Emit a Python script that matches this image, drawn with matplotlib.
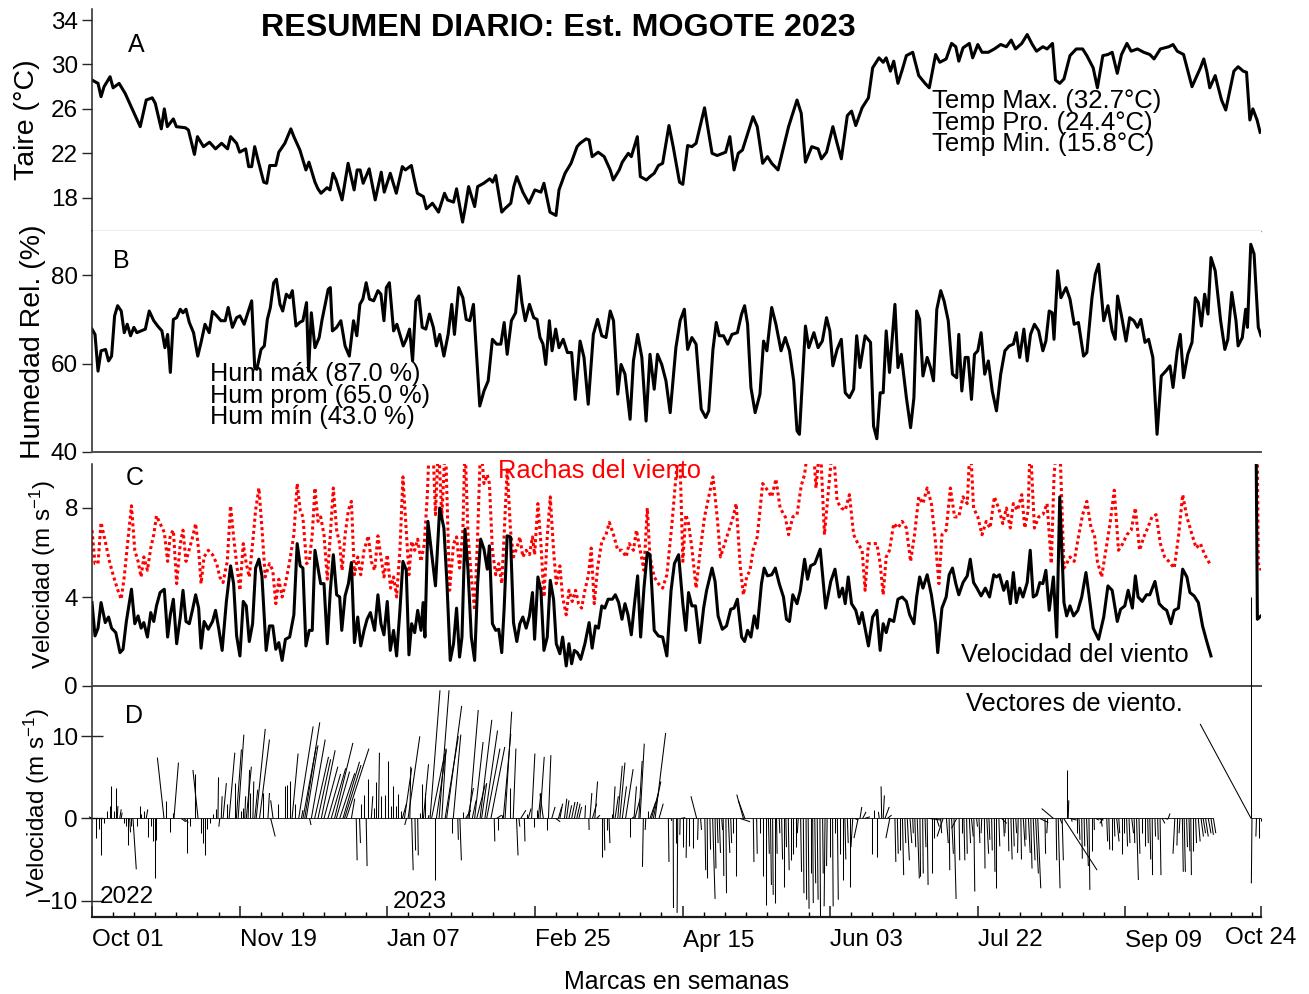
import datetime as dt
import numpy as np
import matplotlib
matplotlib.use("Agg")
import matplotlib.pyplot as plt
from matplotlib.collections import LineCollection
from matplotlib.ticker import MultipleLocator

plt.rcParams["font.family"] = ["Liberation Sans", "DejaVu Sans"]
plt.rcParams["mathtext.fontset"] = "custom"
plt.rcParams["mathtext.rm"] = "Liberation Sans"
plt.rcParams["mathtext.it"] = "Liberation Sans:italic"
plt.rcParams["mathtext.bf"] = "Liberation Sans:bold"

# days counted from 2022-10-01
START = dt.date(2022, 10, 1)
END_DAY = 388  # Oct 24 2023

# daily air temperature (day, degC)
temp_obs = [
    (0, 28.6), (2, 28.3), (3, 27.1), (4, 28.0), (6, 28.9), (7, 27.9), (9, 28.3), (11, 27.4), (12, 26.8),
    (16, 24.4), (18, 26.8), (20, 27.0), (21, 26.5), (23, 24.2), (24, 26.0), (25, 24.4), (27, 25.1),
    (28, 24.4), (31, 24.3), (32, 24.1), (34, 21.9), (35, 23.5), (37, 22.6), (39, 23.0), (41, 22.4),
    (43, 22.9), (45, 22.4), (46, 23.5), (48, 22.9), (49, 22.1), (51, 22.4), (52, 20.8), (53, 20.8),
    (54, 22.6), (55, 21.5), (57, 19.4), (58, 19.3), (59, 20.9), (61, 20.9), (62, 22.1), (64, 22.9),
    (66, 24.2), (67, 23.5), (69, 22.3), (70, 21.4), (71, 20.5), (72, 21.2), (74, 19.4), (75, 18.8),
    (76, 18.4), (78, 18.9), (79, 18.7), (80, 20.2), (81, 19.6), (83, 17.8), (85, 21.1), (87, 18.7),
    (88, 20.5), (89, 20.5), (90, 19.3), (92, 20.6), (94, 17.8), (96, 20.3), (97, 18.5), (99, 20.2),
    (101, 18.4), (103, 20.8), (104, 20.5), (106, 20.9), (107, 19.6), (108, 18.4), (110, 18.1),
    (111, 17.0), (113, 17.5), (115, 16.7), (117, 18.4), (118, 17.8), (120, 17.6), (121, 18.8),
    (123, 15.8), (124, 17.3), (125, 19.0), (127, 17.2), (128, 19.0), (130, 19.3), (132, 19.7),
    (133, 19.4), (134, 20.0), (136, 16.7), (137, 17.0), (139, 17.5), (140, 19.0), (141, 19.9),
    (143, 18.5), (145, 17.5), (147, 18.7), (149, 18.5), (150, 19.3), (152, 16.7), (154, 16.4),
    (155, 18.7), (157, 20.2), (159, 21.1), (161, 22.6), (162, 22.9), (164, 23.3), (165, 23.2),
    (166, 21.7), (168, 22.1), (170, 21.7), (172, 20.5), (173, 19.6), (175, 20.5), (176, 21.2),
    (178, 22.0), (179, 21.7), (181, 23.5), (182, 19.9), (184, 19.6),
    (185.2, 19.9), (186.6, 20.2), (188.0, 20.9), (189.4, 21.1), (191.5, 24.5), (192.9, 22.6),
    (195.0, 19.4), (196.1, 19.2), (197.7, 22.7), (199.1, 22.6), (200.5, 22.9), (203.3, 26.1),
    (205.8, 22.0), (207.5, 21.8), (210.3, 22.1), (211.7, 23.5), (213.1, 20.5), (214.5, 22.0),
    (215.9, 22.3), (219.4, 25.3), (220.8, 24.4), (222.6, 21.1), (224.2, 21.7), (225.6, 21.1),
    (227.7, 20.5), (231.2, 24.4), (234.0, 26.8), (235.4, 25.6), (236.8, 21.2), (238.9, 22.6),
    (241.0, 22.4), (242.1, 21.5), (243.8, 22.1), (245.9, 24.4), (247.3, 22.9), (248.7, 21.5),
    (250.7, 25.4), (252.1, 25.8), (253.5, 24.5), (255.6, 26.1), (257.7, 27.0), (259.1, 29.7),
    (261.2, 30.6), (262.6, 30.2), (263.6, 30.6), (265.0, 29.4), (266.1, 30.3), (267.5, 28.3),
    (268.9, 29.5), (270.3, 30.8), (272.4, 31.1), (274.4, 29.0), (276.5, 28.3), (277.9, 27.9),
    (280.0, 30.9), (281.4, 30.2), (283.5, 30.5), (285.3, 31.9), (286.7, 31.6), (287.7, 30.3),
    (289.1, 31.5), (291.2, 31.9), (292.3, 30.6), (294.0, 31.8), (295.4, 31.1), (297.5, 31.1),
    (299.5, 31.4), (301.6, 31.8), (303.5, 31.6), (305.1, 32.2), (306.5, 31.4), (308.6, 31.9),
    (310.4, 32.7), (312.1, 31.8), (313.5, 31.2), (315.6, 31.6), (317.0, 31.4), (318.8, 31.9),
    (319.8, 28.6), (321.2, 28.3), (322.6, 28.7), (324.6, 30.8), (326.7, 31.4), (328.8, 31.4),
    (330.2, 30.8), (332.3, 29.7), (333.7, 27.9), (335.5, 30.8), (337.2, 30.9), (338.6, 31.1),
    (340.3, 29.2), (341.7, 30.9), (343.5, 31.9), (344.9, 31.2), (347.0, 31.4), (349.1, 31.1),
    (351.1, 30.9), (352.5, 30.5), (354.6, 31.4), (357.4, 31.6), (358.8, 31.8), (360.2, 31.2),
    (362.3, 30.9), (365.1, 28.0), (367.9, 29.7), (369.0, 30.5), (370.0, 29.4), (371.0, 27.9),
    (372.8, 29.0), (374.9, 26.8), (376.3, 25.9), (379.0, 29.4), (380.4, 29.8), (382.1, 29.4),
    (383.2, 29.3), (384.3, 25.0), (385.3, 26.0), (386.7, 25.0), (387.7, 23.9),
]

# relative humidity (day, %)
hum_obs = [
    (0, 67.8), (1, 66.6), (2, 58.3), (3, 62.9), (4.5, 63.2), (5.5, 60.6), (6.5, 61.7), (7.5, 70.8),
    (8.5, 73.1), (9.7, 71.9), (10.7, 67.0), (11.7, 68.9), (12.8, 66.3), (13.9, 68.2), (14.9, 67.0),
    (17.7, 67.8), (19, 71.9), (20.5, 69.7), (21.8, 68.5), (23.2, 67.4), (24.2, 63.6), (25.1, 66.6),
    (26, 58.0), (27, 70.0), (28.1, 70.4), (29.3, 72.3), (30.2, 71.5), (31.2, 72.3), (32.3, 69.3),
    (33.7, 67.0), (35.1, 61.7), (36.2, 64.8), (37.5, 68.9), (38.9, 67.0), (40, 71.8), (41.4, 70.8),
    (42.8, 69.7), (44.2, 69.7), (45.2, 72.7), (46.6, 68.2), (48, 70.4), (49.1, 70.8), (50.5, 68.9),
    (51.9, 71.9), (53, 74.2), (54, 59.1), (54.7, 58.7), (56.1, 63.2), (57.2, 64.0), (58.2, 70.0),
    (59.2, 72.7), (60.3, 78.3), (61.2, 79.1), (62.4, 73.4), (63.3, 71.9), (64.5, 75.7), (65.6, 74.9),
    (66.5, 76.5), (67.7, 68.5), (68.9, 69.3), (70, 69.7), (71.2, 73.8), (71.9, 58.3), (72.8, 71.5),
    (74, 63.6), (75.4, 65.9), (76.3, 69.7), (77.3, 73.1), (78.4, 76.8), (79.1, 77.2), (79.8, 67.4),
    (81.2, 68.2), (82.6, 69.7), (84, 64.0), (85.4, 61.7), (86.8, 69.7), (87.9, 66.3), (88.9, 73.4),
    (89.9, 74.6), (91, 78.3), (92.1, 74.6), (93.5, 74.2), (94.9, 76.5), (95.9, 75.7), (96.9, 69.7),
    (97.7, 77.2), (98.7, 78.3), (100.1, 67.4), (101.2, 68.9), (102.2, 66.6), (103.3, 64.0),
    (104.3, 65.5), (105.4, 67.8), (106.4, 60.6), (107.5, 74.2), (108.5, 75.3), (109.6, 68.2),
    (110.8, 67.8), (112, 71.2), (113.3, 68.2), (114.3, 64.0), (115.4, 66.6), (116.8, 61.7),
    (118.2, 66.6), (119.4, 73.4), (120.3, 66.6), (121.7, 77.2), (123.1, 74.9), (124.2, 70.0),
    (125.4, 69.7), (126.6, 73.4), (128.7, 50.4), (130.1, 53.8), (131.5, 56.1), (132.9, 65.5),
    (134.3, 64.4), (135.7, 64.4), (136.8, 69.3), (137.8, 62.1), (139.2, 69.7), (140.6, 71.5),
    (141.7, 79.8), (142.7, 73.8), (143.8, 69.7), (145.2, 73.4), (146.6, 70.4), (147.7, 70.0),
    (148.7, 65.9), (149.7, 64.4), (150.6, 59.8), (151.8, 69.7), (152.7, 62.9), (153.9, 67.8),
    (155, 63.6), (156.4, 65.5), (157.8, 62.5), (159.2, 62.5), (160.4, 51.9), (162, 65.1),
    (163.3, 61.4), (164.7, 50.8), (166.4, 66.6), (167.8, 70.0), (169.2, 66.3), (170.6, 65.9),
    (172, 71.9), (173.1, 69.7), (174.5, 53.1), (175.6, 59.8), (176.9, 57.6), (178.6, 47.4),
    (179.7, 60.6), (181.1, 66.6), (182.5, 61.4), (183.9, 47.0),
    (185.2, 62.1), (186.6, 54.2), (187.7, 62.1), (189.1, 59.8), (190.5, 56.1), (191.9, 48.9),
    (193.8, 63.6), (195.2, 69.7), (196.6, 72.3), (197.7, 63.2), (199.1, 65.9), (200.5, 64.4),
    (202.2, 49.7), (203.7, 47.8), (204.7, 49.3), (206.1, 63.2), (207.2, 69.3), (208.2, 66.3),
    (209.6, 66.3), (211.0, 64.4), (212.4, 66.6), (214.2, 67.0), (215.6, 71.2), (216.6, 73.1),
    (217.6, 68.9), (218.7, 54.6), (220.1, 48.9), (221.7, 53.1), (222.9, 65.1), (224.0, 62.9),
    (225.6, 72.7), (227.0, 68.9), (228.7, 62.9), (230.1, 65.9), (231.5, 62.9), (232.9, 56.1),
    (234.0, 44.8), (234.8, 44.0), (236.8, 68.5), (237.9, 63.6), (239.6, 67.0), (241.0, 63.6),
    (242.4, 65.1), (243.8, 70.4), (244.9, 67.4), (245.9, 59.5), (247.3, 63.2), (248.7, 65.5),
    (250.0, 53.4), (251.4, 52.3), (252.8, 54.2), (253.8, 66.3), (254.9, 59.1), (256.6, 66.3),
    (258.4, 64.8), (259.4, 45.9), (260.5, 43.0), (261.6, 53.4), (262.6, 53.4), (263.6, 67.4),
    (264.7, 58.0), (266.5, 73.4), (267.5, 59.1), (268.6, 62.1), (270.3, 52.3), (271.7, 45.5),
    (272.8, 52.3), (273.7, 71.9), (274.7, 70.0), (275.8, 57.2), (277.2, 61.4), (278.3, 59.1),
    (279.3, 56.1), (280.4, 72.3), (281.7, 76.5), (282.8, 74.2), (284.2, 69.7), (285.6, 57.6),
    (287.0, 56.8), (287.7, 66.6), (288.7, 53.8), (289.8, 61.4), (290.8, 61.4), (291.9, 51.9),
    (292.9, 62.1), (294.0, 62.9), (295.1, 67.0), (296.3, 57.6), (297.5, 60.6), (298.8, 53.8),
    (300.2, 49.3), (301.6, 57.6), (303.0, 62.9), (304.4, 64.0), (305.8, 64.4), (306.8, 67.0),
    (307.9, 61.4), (309.3, 67.8), (310.4, 60.6), (311.5, 66.6), (312.8, 68.9), (314.2, 67.4),
    (315.6, 62.9), (316.6, 65.1), (317.7, 71.9), (318.7, 71.5), (319.3, 65.5), (320.5, 81.0),
    (321.6, 74.9), (323.3, 77.2), (324.6, 74.6), (326.0, 68.9), (327.4, 69.3), (329.1, 61.7),
    (330.2, 62.5), (331.9, 74.9), (333.0, 80.2), (334.1, 82.5), (335.8, 69.7), (337.2, 73.1),
    (338.6, 67.4), (339.6, 65.5), (340.4, 75.3), (341.7, 70.8), (343.2, 65.1), (344.4, 70.4),
    (345.8, 69.7), (347.0, 68.2), (348.1, 70.0), (349.5, 64.8), (350.7, 65.5), (352.1, 61.4),
    (353.5, 44.0), (354.9, 57.2), (356.4, 58.3), (357.8, 59.5), (358.8, 54.6), (360.2, 62.9),
    (361.2, 66.6), (362.3, 56.8), (363.7, 62.1), (365.1, 64.8), (366.2, 74.9), (367.2, 73.8),
    (368.2, 68.5), (369.3, 75.7), (370.4, 71.2), (371.4, 84.0), (372.8, 81.0), (374.6, 69.7),
    (376.0, 63.2), (377.0, 65.5), (378.3, 76.1), (379.7, 69.7), (380.4, 64.0), (381.8, 65.9),
    (382.9, 72.3), (383.5, 68.2), (384.6, 87.0), (385.7, 84.8), (387.1, 68.2), (388.0, 66.3),
]

# mean wind speed (day, m/s); nan marks the data gap
wind_obs = [
    (0, 3.75), (1, 2.25), (2, 2.6), (3, 3.75), (4.4, 2.85), (5.5, 3.1), (6.5, 2.6), (7.9, 2.4),
    (9.3, 1.5), (10.3, 1.65), (11.4, 2.9), (13.1, 4.35), (14.2, 2.8), (15.3, 3.15), (16.3, 2.6),
    (17.2, 2.85), (18.4, 2.2), (19.5, 3.3), (20.5, 2.9), (21.4, 3.6), (22.6, 4.2), (24, 4.35),
    (25.1, 2.2), (26, 3.2), (27, 3.9), (28.1, 1.9), (29.3, 3.1), (30.2, 4.3), (31.2, 2.9),
    (32.3, 2.8), (33.4, 3.45), (34.4, 4.1), (35.4, 3.5), (36.2, 1.7), (37.2, 2.9), (38.6, 2.55),
    (40, 2.9), (41, 3.4), (42.1, 2.55), (43.2, 1.6), (44.6, 3.8), (46, 5.4), (47, 4.6), (48, 2.25),
    (49.1, 1.35), (50.2, 3.8), (51.2, 3.6), (52.2, 2.0), (53.3, 2.8), (54.3, 5.3), (55.4, 5.7),
    (56.4, 4.95), (57.8, 1.6), (58.9, 2.7), (60, 2.7), (61, 1.65), (62, 1.95), (63.1, 1.15),
    (64.2, 2.1), (65.6, 2.2), (67, 3.2), (68.1, 6.4), (69.1, 5.4), (70, 5.3), (71, 1.8), (72.1, 2.5),
    (73.1, 2.5), (74, 6.1), (75, 5.3), (75.9, 4.6), (77, 4.6), (78.1, 1.9), (79.1, 4.3), (80.1, 5.9),
    (81.2, 4.1), (82.2, 4.0), (82.9, 2.5), (84, 4.05), (85.1, 4.6), (86.1, 5.55), (87.1, 1.95),
    (88.2, 3.1), (89.2, 1.8), (90.3, 2.5), (91.3, 3.0), (92.4, 3.3), (93.8, 2.5), (94.9, 4.1),
    (95.9, 2.8), (96.9, 2.3), (98, 3.8), (99, 1.6), (100.1, 2.5), (101.1, 1.35), (102.2, 3.4),
    (103.2, 5.6), (104.3, 5.2), (105.2, 1.4), (106.1, 2.8), (107.1, 2.4), (108.1, 3.4), (109.2, 2.5),
    (109.9, 3.75), (110.5, 2.2), (111.5, 7.4), (112.6, 6.1), (114, 4.5), (115.4, 8.0), (116.8, 7.1),
    (117.8, 4.65), (118.9, 1.15), (120, 1.9), (121, 3.5), (122, 1.3), (122.8, 2.2), (123.8, 7.05),
    (124.8, 5.2), (125.9, 2.2), (127, 1.15), (128, 4.6), (129, 6.6), (130.1, 6.15), (131.2, 5.25),
    (131.9, 6.3), (132.9, 2.8), (134, 2.5), (135, 2.55), (136, 1.5), (136.8, 3.5), (137.8, 6.75),
    (138.9, 6.7), (139.9, 2.85), (141, 2.0), (142, 2.8), (143, 3.1), (144.1, 2.6), (145.2, 3.15),
    (146.2, 4.2), (146.9, 2.1), (148, 4.9), (149, 4.3), (150, 1.6), (151.1, 2.2), (152.1, 4.75),
    (153.2, 3.9), (154.1, 1.9), (155.3, 1.45), (156.2, 2.2), (157.4, 0.9), (158.3, 1.9), (159.2, 1.0),
    (160.1, 1.6), (161.1, 1.5), (162.2, 1.2), (163.6, 1.9), (165, 2.85), (166, 1.7), (167.1, 2.7),
    (168.1, 2.6), (169.2, 3.6), (170.2, 3.5), (171.3, 3.9), (172.7, 3.9), (173.7, 4.1), (174.8, 3.75),
    (175.9, 3.0), (176.9, 3.7), (177.9, 3.2), (179, 2.3), (180.1, 3.75), (181.1, 4.95), (182.1, 2.2),
    (183.2, 4.4), (184.3, 6.0),
    (185.2, 5.9), (186.6, 2.5), (188, 2.25), (189.4, 2.2), (190.8, 1.35), (192.2, 4.3), (193.3, 5.5),
    (194.7, 5.9), (196.1, 3.7), (197.1, 2.5), (198, 4.2), (199.1, 3.6), (200.3, 3.6), (201.7, 1.95),
    (203, 3.5), (204, 4.3), (205.8, 5.3), (206.8, 4.7), (207.8, 3.15), (209.2, 2.55), (210.6, 2.7),
    (212, 3.45), (213.1, 3.5), (214.2, 3.9), (215.6, 2.2), (216.6, 2.0), (217.6, 2.5), (218.7, 2.2),
    (219.8, 3.15), (220.8, 2.6), (222.2, 4.6), (223.1, 5.3), (224.2, 4.95), (225.6, 5.0), (226.8, 5.3),
    (228.1, 4.6), (229.5, 4.0), (230.5, 3.0), (231.5, 2.9), (232.6, 4.1), (234, 3.7), (235.1, 4.3),
    (236.5, 5.7), (237.5, 4.8), (238.5, 5.4), (239.9, 5.5), (241.7, 6.15), (243.5, 3.5), (245.2, 4.7),
    (246.6, 5.25), (248, 4.0), (249.1, 4.4), (250, 3.7), (251, 4.9), (252.1, 3.7), (253.5, 3.4),
    (254.6, 2.8), (255.6, 3.3), (257.7, 1.8), (259.1, 3.1), (260.5, 3.4), (261.6, 1.6), (262.6, 2.8),
    (263.6, 2.4), (264.7, 3.0), (266.1, 2.9), (267.5, 3.9), (268.9, 4.0), (270.3, 3.8), (271.4, 3.2),
    (272.8, 2.8), (273.7, 4.0), (274.7, 4.9), (275.8, 4.4), (277.2, 5.0), (278.6, 4.1), (280, 2.8),
    (280.7, 1.5), (282.1, 3.5), (283.5, 4.0), (284.5, 5.0), (285.6, 5.3), (286.7, 4.6), (287.7, 4.1),
    (289.1, 4.65), (290.5, 4.95), (291.5, 5.7), (292.6, 4.65), (293.7, 4.4), (295.1, 4.05),
    (296.5, 4.4), (297.9, 4.0), (299.3, 5.0), (300.2, 4.9), (301.2, 5.0), (302.6, 4.3), (303.7, 4.7),
    (304.8, 3.7), (305.8, 5.1), (306.8, 3.75), (307.9, 4.4), (309, 4.0), (310.4, 4.65), (311.4, 6.1),
    (312.4, 4.0), (313.5, 4.1), (314.6, 4.65), (315.6, 4.6), (316.6, 5.2), (317.7, 3.4), (319.1, 4.9),
    (320.2, 2.2), (321.2, 8.5), (322.6, 3.75), (323.5, 3.15), (324.6, 3.6), (325.8, 3.15),
    (327.2, 3.4), (328.5, 4.0), (329.9, 5.1), (330.9, 4.1), (332.3, 2.6), (334.1, 2.1), (335.8, 3.1),
    (337.2, 4.5), (338.6, 4.3), (340.3, 2.9), (341.4, 3.45), (342.8, 3.6), (343.9, 4.3), (345.3, 3.5),
    (346.3, 4.95), (347.2, 4.0), (348.6, 3.8), (350, 4.1), (351.1, 4.1), (352.8, 4.7), (354.2, 3.7),
    (355.6, 3.5), (356.7, 3.4), (358.1, 2.8), (359.2, 3.4), (360.6, 3.5), (362, 5.25), (363.4, 4.9),
    (364.4, 4.2), (365.8, 4.05), (367.2, 3.75), (368.6, 2.7), (370, 2.0), (371.4, 1.35),
    (378, np.nan), (385.5, 27.0), (386.8, 3.0), (388, 3.15),
]

# wind gusts (day, m/s); values above 10 run off the top of the panel
gust_obs = [
    (0, 7.0), (1, 5.5), (2, 5.5), (3, 7.35), (4.4, 6.5), (5.8, 5.6), (7.2, 4.9), (8.6, 4.3), (9.7, 3.9),
    (10.7, 4.9), (12.1, 6.8), (13.1, 8.1), (14.2, 6.1), (15.3, 5.6), (16.3, 4.9), (17.2, 5.8),
    (18.4, 5.2), (19.5, 6.2), (20.5, 6.8), (21.4, 7.65), (22.6, 7.3), (24, 6.9), (25.1, 5.6), (26, 6.8),
    (27, 7.0), (28.1, 4.6), (29.3, 6.4), (30.2, 7.0), (31.2, 5.6), (32.3, 6.15), (33.4, 6.7),
    (34.4, 7.3), (35.4, 6.1), (36.2, 4.6), (37.2, 5.8), (38.6, 6.1), (40, 5.9), (41.4, 5.5), (42.4, 4.9),
    (43.5, 4.65), (44.9, 5.6), (46, 8.1), (47, 6.7), (48, 5.5), (49.1, 4.3), (50.2, 6.4), (51.2, 5.5),
    (52.2, 4.9), (53.3, 6.4), (54.3, 7.9), (55.4, 8.9), (56.4, 7.1), (57.5, 4.9), (58.9, 5.5), (60, 5.2),
    (61, 3.7), (62, 4.8), (63.1, 4.0), (64.2, 4.6), (65.6, 5.6), (67, 6.8), (68.1, 9.1), (69.1, 7.9),
    (70, 7.6), (71.2, 5.5), (72.1, 5.6), (73.1, 6.8), (74, 8.9), (75, 7.4), (75.9, 7.6), (77, 6.8),
    (78.1, 4.8), (79.1, 6.8), (80.1, 8.9), (81.2, 7.0), (82.2, 6.4), (83, 5.2), (84, 6.8), (85.1, 7.9),
    (86.1, 8.3), (87.1, 5.0), (88.2, 5.8), (89.2, 5.0), (90.3, 6.1), (91.7, 6.75), (92.7, 5.6),
    (93.8, 5.2), (94.9, 6.75), (95.9, 5.8), (96.9, 4.9), (98, 5.9), (99.1, 4.4), (100.1, 4.9),
    (101.1, 4.0), (102.2, 6.1), (103.2, 9.4), (104.3, 7.0), (105.2, 5.0), (106.1, 6.5), (107.1, 6.1),
    (108.1, 6.6), (109.2, 5.6), (110.3, 6.4), (111.3, 8.6), (112, 11.0), (113.1, 11.0), (114, 7.7),
    (115, 11.0), (116.1, 7.6), (117.3, 11.0), (118.7, 4.3), (120, 6.4), (121, 6.7), (122, 5.3),
    (123.1, 7.0), (123.8, 11.0), (124.8, 6.8), (125.9, 4.9), (127, 3.4), (128, 6.8), (129, 11.0),
    (130.1, 9.1), (131.2, 9.5), (131.9, 9.1), (132.9, 6.1), (134, 5.0), (135, 5.5), (136, 4.6),
    (136.8, 6.8), (137.8, 9.8), (138.9, 7.0), (139.9, 5.8), (141, 6.2), (142, 6.7), (143, 5.8),
    (144.1, 6.1), (145.2, 5.9), (146.2, 6.7), (146.9, 5.9), (148, 8.2), (149, 6.4), (150, 4.0),
    (151.1, 6.7), (152.1, 8.5), (153.2, 6.1), (154.1, 4.6), (155.3, 5.4), (156.2, 4.0), (157.4, 3.2),
    (158.3, 4.3), (159.4, 3.8), (160.5, 4.3), (161.5, 3.7), (162.5, 3.5), (163.6, 4.3), (164.8, 5.0),
    (165.7, 6.2), (166.7, 3.7), (167.8, 5.3), (169.2, 6.5), (170.6, 6.8), (171.7, 7.35), (173.1, 6.8),
    (174.5, 6.1), (175.9, 6.1), (177.3, 5.8), (178.3, 6.4), (179.7, 6.1), (180.7, 7.0), (181.8, 6.2),
    (183.2, 5.2), (184.3, 8.0),
    (185.2, 5.8), (186.6, 4.9), (188, 4.6), (189.4, 4.4), (190.8, 5.0), (192.5, 7.3), (193.8, 9.4),
    (195, 11.0), (196.1, 5.6), (197.1, 7.7), (198, 7.3), (199.1, 6.2), (200.5, 4.4), (201.9, 6.1),
    (203.3, 7.6), (204.7, 8.5), (206.1, 9.4), (207.5, 7.6), (208.6, 5.8), (210, 6.4), (211.4, 7.0),
    (212.8, 7.6), (213.8, 8.2), (215.2, 5.3), (216.2, 4.1), (217.3, 4.9), (218.4, 5.2), (219.4, 6.1),
    (220.8, 6.7), (222.6, 9.1), (224.2, 8.8), (225.6, 8.5), (227, 9.3), (228.4, 8.0), (230.1, 7.6),
    (231.2, 6.8), (232.6, 7.6), (234, 7.7), (235.4, 9.0), (236.5, 9.5), (237.9, 11.0), (239.3, 11.0),
    (240.3, 8.9), (241.7, 11.0), (243.1, 6.8), (244.5, 8.9), (245.9, 11.0), (247.3, 8.3), (248.7, 8.0),
    (250, 7.9), (251.4, 8.6), (252.8, 6.8), (254.2, 6.4), (255.6, 6.1), (256.6, 4.3), (257.7, 6.4),
    (259.1, 6.4), (260.5, 6.4), (261.6, 5.5), (262.6, 4.1), (263.6, 5.8), (264.7, 6.1), (266.1, 7.3),
    (267.5, 7.1), (268.9, 7.4), (270.3, 7.1), (271.7, 5.6), (273, 6.8), (274.4, 8.5), (275.8, 8.2),
    (277.2, 8.9), (278.6, 8.2), (280, 6.4), (281.1, 4.6), (282.1, 6.8), (283.5, 7.0), (284.9, 8.9),
    (286.3, 7.6), (287.7, 7.6), (289.1, 8.5), (290.5, 8.2), (291.5, 11.0), (292.6, 8.0), (294, 7.6),
    (295.4, 6.8), (296.8, 7.4), (298.1, 7.1), (299.5, 8.5), (300.9, 8.0), (302.3, 7.3), (303.5, 8.0),
    (304.8, 7.1), (305.8, 8.2), (307.2, 7.9), (308.6, 8.6), (309.6, 7.1), (310.7, 7.9), (311.4, 11.0),
    (312.8, 7.1), (314.2, 7.6), (315.6, 7.7), (317, 8.2), (318.4, 5.5), (319.3, 9.4), (320.2, 11.0),
    (321.2, 11.0), (322.6, 5.3), (323.5, 5.5), (324.6, 5.8), (326, 5.6), (327.4, 6.7), (328.8, 7.7),
    (330.2, 8.3), (331.6, 7.1), (332.7, 6.8), (333.7, 5.6), (335.1, 4.9), (336.5, 6.1), (337.9, 7.3),
    (339.3, 8.8), (340.7, 6.1), (342.1, 6.4), (343.5, 6.8), (344.9, 7.0), (346.3, 8.0), (347.7, 6.1),
    (349.1, 6.7), (350.4, 7.1), (351.8, 7.6), (353.2, 7.7), (354.6, 6.4), (356, 5.8), (357.4, 5.6),
    (359.2, 5.3), (360.6, 6.7), (362, 8.6), (363.4, 7.6), (365.1, 6.8), (366.5, 6.2), (367.9, 6.4),
    (369.3, 5.9), (371.4, 5.4),
    (378, np.nan), (385.5, 30.0), (387.1, 5.5), (388, 5.2),
]

# wind vectors (day, u, v) in m/s; u is drawn along the day axis
vec_obs = [
    (0.0, -1.0, 0.2), (1.4, 0, -2.4), (2.2, 0, -1.3), (3.1, 0, -4.4), (4.0, 0, -0.5), (5.1, 0, 0.9),
    (5.9, 0, 1.5), (6.4, 0, 3.9), (7.3, 0, 0.9), (7.8, 0, 3.7), (8.4, 0.2, 1.5), (9.2, 0.5, 1.1),
    (9.7, 0.3, 0.7), (10.6, 0, -0.5), (11.4, 0, -0.9), (12.0, 0, -3.2), (12.5, 0.3, -1.7),
    (13.0, 0, -0.9), (13.6, 1.1, -6.2), (15.0, 0, -0.9), (15.8, 0, 1.5), (16.4, 0, 0.5),
    (17.3, 0, 0.9), (18.0, 0.5, 1.1), (18.6, 0, -2.2), (19.7, 0, -0.9), (20.2, 0, -2.8),
    (20.8, 0, -7.2), (21.3, 0, -2.6), (23.9, -2.2, 7.4), (24.5, 0, 2.1), (25.8, 0, -1.7),
    (26.9, 0, 0.7), (27.2, 1.5, 6.8), (29.6, 1.5, -0.4), (30.5, 1.5, -0.5), (31.6, 0, -4.2),
    (32.4, 0, -0.9), (34.3, 0, 5.4), (35.2, -1.7, 5.9), (36.1, 0, -1.8), (36.8, 0, -3.0),
    (37.6, 0, -4.4), (38.3, 0, -1.3), (39.0, 0, -0.6), (40.1, 0, 0.5), (41.3, 0, 1.1),
    (41.8, 0.2, 5.0), (42.4, -0.3, -1.0), (42.9, 0.3, 2.7), (43.5, 1.1, 4.3), (44.9, 0, 1.8),
    (45.5, 1.9, 8.0), (47.3, 0, 4.3), (47.9, 1.7, 8.4), (48.5, 1.9, 10.2), (49.3, 0, 0.9),
    (50.1, 0, 1.3), (50.7, 0.3, 2.7), (51.2, 1.7, 6.3), (51.8, 0.5, 5.9), (52.6, 0, 3.1),
    (53.4, 0.3, 4.5), (54.0, 1.0, 3.5), (54.5, 3.0, 10.9), (55.6, 3.3, 9.6), (56.7, 0, 3.1),
    (58.4, 0.5, 3.1), (59.3, 1.5, -2.2), (60.1, -0.8, 2.2), (61.7, 0, 1.8), (64.0, 0, 3.9),
    (64.8, 0, 4.1), (65.6, 0, 4.5), (66.4, 2.0, 7.9), (67.3, 0, 1.8), (68.6, 4.8, 11.2),
    (69.5, 0.5, 1.0), (70.0, 4.4, 8.7), (70.6, 5.0, 11.7), (71.1, 3.9, 8.9), (72.2, 0.5, -0.8),
    (72.8, 4.6, 9.6), (73.9, 4.6, 7.5), (75.0, 4.2, 7.2), (76.1, 4.6, 8.3), (77.0, 4.6, 6.3),
    (78.3, 4.2, 5.4), (79.4, 4.8, 6.1), (80.5, 6.1, 9.2), (81.1, 4.4, 5.7), (82.2, 5.0, 5.5),
    (83.3, 5.5, 6.9), (83.8, 5.5, 6.5), (84.4, 7.5, 8.5), (86.1, 1.1, 2.4), (87.7, 0.3, -5.1),
    (88.8, 0.3, -3.0), (89.4, 0, 1.8), (90.3, 0, 2.9), (91.0, 0.3, -5.8), (91.6, 0, 4.8),
    (92.7, 0.5, 2.7), (93.6, 0, 1.3), (94.4, 0, 4.4), (95.1, 0.3, 8.0), (96.0, 0, 2.7),
    (97.1, 0, 2.9),
    (98.4, 0, 7.0), (99.2, 0, 1.5), (100.0, 0, 4.0), (100.8, 0, 1.5), (101.7, 0, 3.0),
    (102.6, 0, 0.9), (103.0, 1.4, 1.8), (103.7, 2.4, 6.1), (104.4, -0.6, -0.8), (104.9, 3.9, 10.0),
    (105.5, 0.3, 6.3), (106.1, 0.5, -6.3), (107.2, 0.2, -3.9), (108.1, 0.2, -4.5), (108.9, 0, 0.7),
    (109.4, 0, 4.2), (110.0, 1.7, 6.6), (110.5, 0, 3.1), (111.6, 0.2, 0.4), (112.2, 3.3, 15.6),
    (112.7, 4.4, 7.9), (113.8, 0, -7.5), (114.3, 3.3, 8.4), (115.2, 3.3, 15.6), (116.1, 1.4, 8.5),
    (117.2, 4.4, 10.0), (117.7, 5.0, 13.7), (119.4, 0, -1.8), (119.9, 2.5, 10.2), (121.4, 0.2, -2.6),
    (122.1, 0.5, -5.1), (123.2, 0, 0.8), (124.0, 1.7, 1.0), (124.7, 1.9, 3.7), (125.2, 3.0, 13.2),
    (126.2, 1.3, 2.2), (127.0, 2.8, 9.3), (127.7, 2.8, 4.1), (128.8, 3.9, 12.0), (129.3, 1.7, 4.3),
    (130.4, 4.2, 10.7), (131.0, 4.4, 8.5), (132.4, 4.6, 8.7), (133.5, 0.2, -2.8), (134.3, 1.7, 0.4),
    (134.9, 0, -1.4), (136.0, 0, 0.4), (136.5, 2.5, 10.3), (137.1, 2.2, 13.0), (138.7, 0, 3.7),
    (139.8, 0.9, 8.5), (140.9, 0.5, -4.5), (141.7, 0.3, -1.0), (142.3, 1.7, 1.0), (143.5, 0.2, -2.8),
    (144.3, 0, 0.6), (144.8, 0.9, 1.2), (145.9, 1.1, 7.9), (146.8, 0, -1.0), (147.6, 0, 1.0),
    (148.1, 0.9, 3.1), (148.7, 1.4, 7.5), (149.8, -1.1, 3.0), (150.9, 0, -1.4), (151.5, 0.8, 7.7),
    (152.6, 1.1, 1.4), (153.9, 1.5, -0.4), (154.8, 1.1, 1.4), (155.3, 0.9, 1.8), (156.8, 0.8, 2.4),
    (157.5, 0.8, 2.2), (158.3, 0.9, 1.6), (159.2, 1.1, 2.0), (160.1, 1.1, 2.0), (160.9, 1.1, 1.8),
    (161.6, 0.9, 1.4), (163.6, 0.2, 1.6), (164.9, 0.1, -1.4), (165.3, 0.6, 3.1), (166.1, 1.4, 1.8),
    (166.9, 0.9, 4.5), (167.5, 1.1, 0.4), (169.2, 0, -4.7), (170.0, 0.2, -3.9), (170.8, 0, -1.4),
    (171.6, 0.3, -3.0), (172.5, 0, 0.6), (173.0, 0.6, 3.9), (173.6, 1.1, 2.7), (174.5, 1.5, 6.4),
    (175.2, 1.7, 6.8), (176.0, 1.4, 3.9), (177.1, 2.5, 6.0), (178.6, 0, -2.2), (179.3, 0.5, 0.2),
    (179.9, 0.8, 3.9), (180.2, 1.7, 2.4), (181.5, 1.1, 7.0), (181.9, 1.4, 9.1), (183.0, -0.3, -5.9),
    (183.8, -0.2, -1.4), (184.6, 0, 0.9), (185.2, 1.9, 2.0), (185.7, 2.2, 3.0), (186.3, 2.5, 4.5),
    (186.9, 3.5, 10.4), (188.2, 1.4, 1.8), (191.3, 0.2, -5.3), (192.2, 0.2, -0.3),
    (192.9, 0.1, -10.9), (193.7, 0, -3.0), (194.4, -0.2, -11.5), (195.2, -0.1, -2.0),
    (195.5, 1.4, 0.1),
    (196.3, 0, -3.5), (197.4, -0.2, -4.8), (198.3, 0, -3.4), (199.4, 0, -3.6), (200.7, -1.9, 2.7),
    (201.2, -0.2, -2.6), (202.0, 0.3, -1.4), (203.4, 0.3, -6.3), (204.2, 0.1, -7.3),
    (205.1, 0.2, -3.8), (206.0, 0.8, -9.8), (206.8, 0.3, -6.1), (207.5, 0.3, -3.0),
    (208.2, 0.4, -4.2), (209.0, 0.3, -1.4), (209.5, 0.2, -7.0), (210.4, 0.2, -9.1),
    (211.2, 0.5, -4.2), (212.0, 0.3, -3.0), (212.9, 0, -1.8), (213.7, 0, -7.0), (215.1, 3.3, -0.4),
    (216.2, -2.2, 2.9), (216.7, -2.2, 2.2), (219.5, 0.2, -5.3), (220.6, 0.2, -4.3), (221.7, 0, -1.8),
    (222.6, 0, -7.0), (223.7, 0, -10.5), (224.5, 0.3, -4.3), (225.2, 0.3, -8.1), (225.9, 0.2, -9.3),
    (226.7, 0, -10.3), (227.2, 0.2, -4.3), (228.1, 0.2, -1.8), (228.9, 0.3, -5.0), (229.7, 0, -8.3),
    (230.3, 0.2, -3.5), (231.1, 0.3, -6.3), (231.9, 0, -5.0), (232.8, 0, -4.3), (233.6, 0, -3.5),
    (234.4, -0.3, -1.8), (235.2, 0.3, -6.5), (236.1, 0.2, -9.1), (237.0, 0.2, -9.9),
    (237.7, 0.3, -11.0), (238.5, 0, -6.7), (239.2, 0.2, -10.3), (239.9, 0.3, -7.9),
    (240.7, 0.3, -9.9), (241.6, 0.2, -11.9), (242.5, 0.2, -6.7), (243.3, -0.3, -10.7),
    (244.0, -0.2, -5.8), (244.9, 0, -4.7), (245.8, 0.2, -10.7), (246.6, 0, -1.8), (247.4, 0.3, -9.9),
    (248.2, 0, -4.3), (249.1, 0, -7.5), (249.9, 0.3, -5.0), (250.7, 0.3, -3.0), (251.6, 0, -8.3),
    (252.5, -0.6, -3.5), (253.2, 1.1, -0.2), (254.3, -1.4, -2.4), (254.9, 0.6, 1.4),
    (255.8, 1.1, 0.8), (256.5, 1.7, 0.2), (258.8, 0, -4.3), (259.5, 0, 1.0), (260.4, 0, -4.7),
    (261.3, -0.3, 0.8), (262.1, -0.2, 3.9), (262.6, 0.4, 2.8), (263.2, 1.4, 1.4), (264.0, 1.4, 0.4),
    (264.8, -1.3, -2.4), (266.5, 0.3, -5.3), (267.3, 0.3, -4.3), (268.2, 0, -3.8), (269.0, 0.4, -6.9),
    (269.8, 0.3, -3.0), (270.6, 0.7, -5.1), (271.5, 0.6, -3.0), (272.4, 0.2, -1.8), (273.1, 0.3, -3.5),
    (273.9, 0.7, -7.3), (274.8, 0.2, -7.1), (275.7, 0.2, -6.7), (276.5, 0.3, -3.5), (277.2, 0.3, -8.1),
    (277.9, 3.9, -0.2), (278.7, 0, -6.7), (279.4, 0, -2.4), (280.3, 0.9, -1.0), (281.7, 0.3, -1.8),
    (282.5, -2.0, -2.2), (283.6, 0.6, -3.0), (284.5, 0.2, -6.3), (285.3, 0.6, -4.3),
    (286.1, 0.7, -9.8), (287.0, -1.7, -1.2), (287.8, 0.2, -5.1), (288.6, 0, -1.8), (289.4, 0.3, -5.1),
    (290.3, 0.2, -4.3), (291.2, 0.4, -3.0), (291.9, 0.6, -2.2), (292.7, 0.3, -8.9), (293.6, 0.3, -1.0),
    (294.4, 0.3, -3.0),
    (295.3, -0.2, -1.8), (296.2, 0.2, -6.1), (297.0, 0.6, -4.3), (297.7, 0.3, -2.6), (298.6, 0.2, -3.9),
    (299.5, 0.2, -6.5), (300.2, 0, -8.5), (301.0, 0.3, -3.4), (301.9, 1.7, -0.6), (302.5, 0.3, -2.2),
    (303.2, -0.2, -1.8), (304.1, 0.2, -4.0), (305.0, 0.4, -5.0), (305.8, 0.3, -3.4), (306.6, 0.3, -1.8),
    (307.4, -0.2, -4.2), (308.3, 0.2, -5.0), (309.1, 0.6, -3.4), (309.9, 0.1, -2.6), (310.8, 0.6, -4.2),
    (311.6, 0.4, -6.1), (312.4, 0.6, -5.1), (313.2, 0.9, -6.7), (313.9, 1.0, -8.5), (314.6, 2.8, -0.5),
    (316.3, 0.2, -4.3), (317.2, -0.3, -1.8), (319.1, -3.9, 1.2), (320.0, 0.2, -5.1), (320.7, 0.6, -8.5),
    (321.3, 0.6, -0.6), (322.0, 0.4, -5.1), (322.5, 11.1, -6.3), (323.5, 0, 5.9), (324.0, 0.2, 2.2),
    (324.6, 2.2, -0.2), (325.1, 0.2, -0.4), (326.8, 0, -1.8), (327.6, 0.3, -2.6), (328.5, 0.2, -4.9),
    (329.3, 0.2, -3.4), (330.1, 0.6, -5.8), (330.9, 0.3, -8.7), (331.8, 0, -4.0), (332.6, 0.1, -1.4),
    (333.1, 1.1, -0.2), (334.0, 1.7, -0.2), (334.9, 0.4, -1.0), (335.6, -1.1, -0.6), (336.8, 0.3, -2.8),
    (337.5, 0.3, -3.8), (338.4, 0, -3.8), (339.3, 0.2, -2.2), (340.1, 0.8, -2.8), (340.8, 0.3, -1.8),
    (341.7, 0, -4.3), (342.6, 0, -1.8), (343.4, 0.3, -3.4), (344.2, 0.3, -3.0), (345.1, 0.6, -1.8),
    (345.9, 0.2, -3.0), (346.7, 0.6, -7.5), (347.5, 0.3, -4.3), (348.4, 0, -1.8), (349.5, 0, -3.4),
    (350.4, 0.2, -3.0), (351.1, 0.3, -5.0), (351.9, 0.1, -6.9), (352.8, 0.2, -2.2), (353.7, 0.2, -2.6),
    (354.5, 0.3, -6.9), (355.2, 0.9, -0.6), (356.1, 1.1, -0.1), (357.2, 0.6, 0.6), (359.4, -0.6, -4.3),
    (360.3, -0.2, -3.3), (361.1, -0.3, -1.8), (361.9, 0.3, -6.5), (362.5, 0.4, -6.5), (363.3, 0.3, -3.5),
    (364.1, 0.3, -4.0), (364.7, 0.2, -6.9), (365.5, 0, -4.0), (366.3, 0.3, -3.0), (367.2, 0.6, -2.8),
    (368.1, 0.8, -2.2), (368.8, 0.8, -1.8), (369.6, 0.9, -2.2), (370.5, 0.9, -1.8), (371.4, 0.8, -2.0),
    (372.2, 0.8, -1.8),
    (384.7, -16.9, 11.5), (384.8, 0, 27.0), (385.0, -0.2, -7.9), (386.5, -0.2, -2.2), (387.3, 0, -2.4),
    (388.0, 0, -0.3),
]

temp_day, temp_val = np.array(temp_obs).T
hum_day, hum_val = np.array(hum_obs).T
wind_day, wind_val = np.array(wind_obs).T
gust_day, gust_val = np.array(gust_obs).T
vec_day, vec_u, vec_v = np.array(vec_obs).T

temp_notes = ["Temp Max. (32.7°C)", "Temp Pro. (24.4°C)", "Temp Min. (15.8°C)"]
hum_notes = ["Hum máx (87.0 %)", "Hum prom (65.0 %)", "Hum mín (43.0 %)"]

# ---------------------------------------------------------------- figure
W, H = 1309, 994
fig = plt.figure(figsize=(W / 100, H / 100), dpi=100)
LEFT, RIGHT = 92, 1261


def add_panel(top, bottom):
    return fig.add_axes([LEFT / W, 1 - bottom / H, (RIGHT - LEFT) / W, (bottom - top) / H])


def fig_text(x, y, s, **kw):
    # y is the baseline of the (last) line, in pixels from the top
    return fig.text(x / W, 1 - y / H, s, va="baseline", **kw)


ax_a = add_panel(9, 231)
ax_b = add_panel(231, 452)
ax_c = add_panel(463.5, 686)
ax_d = add_panel(687, 917)
axes = [ax_a, ax_b, ax_c, ax_d]

SPINE = "#262626"
for ax in axes:
    ax.set_xlim(0, END_DAY)
    ax.spines["right"].set_visible(False)
    ax.spines["top"].set_visible(False)
    ax.spines["left"].set_color(SPINE)
    ax.spines["left"].set_linewidth(1.1)
    ax.tick_params(axis="y", direction="out", length=7, width=1, pad=3,
                   labelsize=17.5, color=SPINE)
    ax.tick_params(axis="x", bottom=False, labelbottom=False)

# A: temperature
ax_a.plot(temp_day, temp_val, color="black", lw=2.2)
ax_a.set_ylim(15, 35)
ax_a.set_yticks([18, 22, 26, 30, 34])
ax_a.spines["bottom"].set_color("#a6a6a6")
ax_a.spines["bottom"].set_linewidth(1.0)
ax_a.set_ylabel("Taire (°C)", fontsize=20.5)
ax_a.yaxis.set_label_coords(-0.0445, 0.5)

# B: relative humidity
ax_b.plot(hum_day, hum_val, color="black", lw=2.2)
ax_b.set_ylim(40, 90)
ax_b.set_yticks([40, 60, 80])
ax_b.spines["bottom"].set_color("#4d4d4d")
ax_b.spines["bottom"].set_linewidth(1.4)
ax_b.set_ylabel("Humedad Rel. (%)", fontsize=20.5)
ax_b.yaxis.set_label_coords(-0.0393, 0.5)

# C: wind speed and gusts
ax_c.plot(gust_day, gust_val, color="red", lw=2.2, linestyle=(0, (1, 1)))
ax_c.plot(wind_day, wind_val, color="black", lw=2.2)
ax_c.set_ylim(0, 10)
ax_c.set_yticks([0, 4, 8])
ax_c.spines["bottom"].set_color("#4d4d4d")
ax_c.spines["bottom"].set_linewidth(1.4)
ax_c.set_ylabel("Velocidad (m s$^{-1}$)", fontsize=17.5)
ax_c.yaxis.set_label_coords(-0.0291, 0.5)

# D: wind vectors as sticks from the zero line
segs = [[(d, 0.0), (d + u, v)] for d, u, v in zip(vec_day, vec_u, vec_v)]
ax_d.add_collection(LineCollection(segs, colors="black", linewidths=0.75, clip_on=False))
breaks = np.where(np.diff(vec_day) > 5)[0]
run_start = np.r_[vec_day[0], vec_day[breaks + 1]]
run_end = np.r_[vec_day[breaks], vec_day[-1]]
ax_d.hlines(np.zeros_like(run_start), run_start, run_end, color="black", lw=0.6)
ax_d.set_ylim(-12, 16)
ax_d.set_yticks([-10, 0, 10])
ax_d.tick_params(axis="y", direction="inout", length=16, pad=2)
ax_d.spines["bottom"].set_color("#1a1a1a")
ax_d.spines["bottom"].set_linewidth(1.6)
ax_d.set_ylabel("Velocidad (m s$^{-1}$)", fontsize=17.5)
ax_d.yaxis.set_label_coords(-0.0342, 0.5)

# weekly minor ticks, a labelled tick every 7 weeks
major_days = list(range(0, END_DAY, 49)) + [END_DAY]
major_labels = [(START + dt.timedelta(days=int(d))).strftime("%b %d") for d in major_days]
ax_d.tick_params(axis="x", bottom=True, labelbottom=True, direction="in",
                 length=8, width=1.1, pad=9, labelsize=17.5, color="#1a1a1a")
ax_d.tick_params(axis="x", which="minor", direction="in", length=3.5, width=1.0)
ax_d.set_xticks(major_days, labels=major_labels, ha="left")
last = ax_d.xaxis.get_major_ticks()[-1]
last.label1.set_ha("center")
last.set_pad(7)
ax_d.xaxis.set_minor_locator(MultipleLocator(7))
ax_d.set_xlabel("Marcas en semanas", fontsize=18, labelpad=13)

# titles and annotations
fig_text(558.5, 36, "RESUMEN DIARIO: Est. MOGOTE 2023", ha="center",
         fontsize=23.2, fontweight="bold")
fig_text(128, 52, "A", fontsize=18)
fig_text(113, 268, "B", fontsize=18)
fig_text(126, 485, "C", fontsize=18)
fig_text(125, 723, "D", fontsize=18)

fig_text(932, 151, "\n".join(temp_notes), fontsize=18.5, linespacing=0.86)
fig_text(210, 424, "\n".join(hum_notes), fontsize=18.2, linespacing=0.86)

fig_text(498, 478, "Rachas del viento", color="red", fontsize=18.4)
fig_text(961, 662, "Velocidad del viento", fontsize=18.4)
fig_text(966, 711, "Vectores de viento.", fontsize=18.3)
fig_text(100, 903, "2022", fontsize=17.5)
fig_text(393, 908, "2023", fontsize=17.5)

fig.savefig("out.png", dpi=100)
